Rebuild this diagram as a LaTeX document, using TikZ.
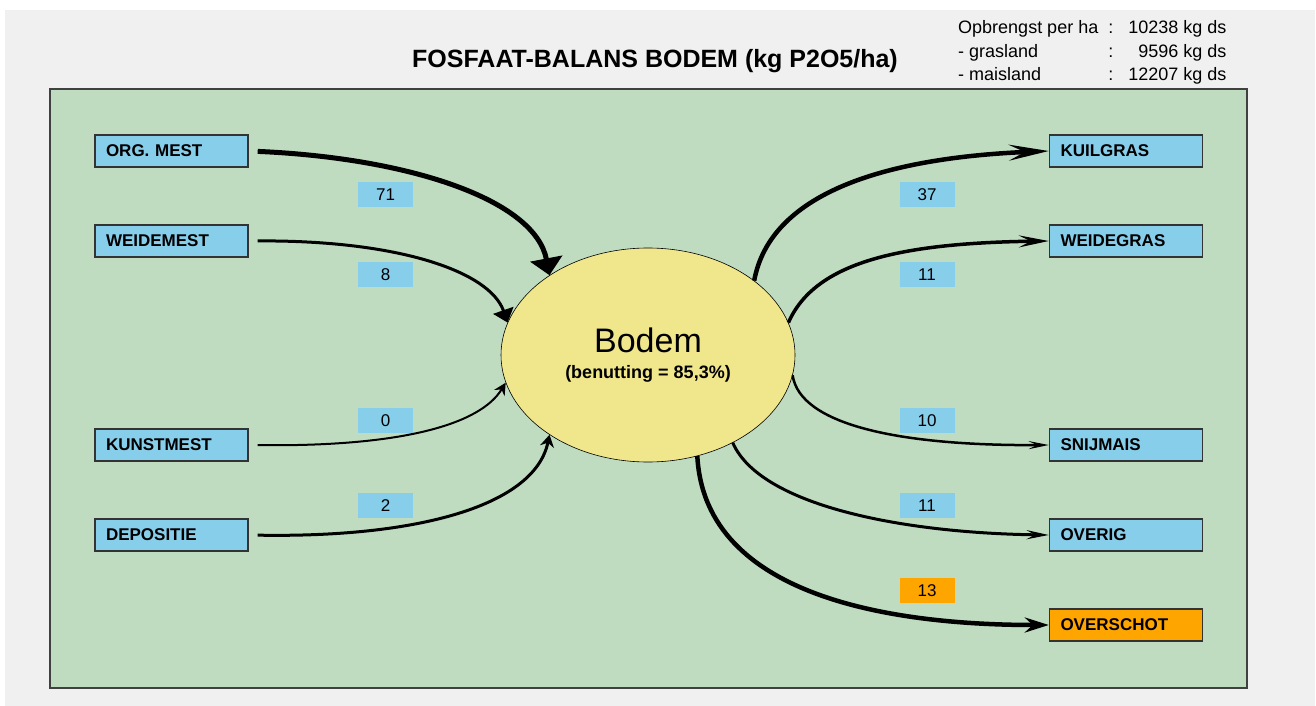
\documentclass[tikz,border=0pt]{standalone}
\usepackage{fontspec}
\setmainfont{Liberation Sans}
\usetikzlibrary{shapes.geometric,arrows.meta}
\definecolor{panelgreen}{RGB}{192,220,192}
\definecolor{boxblue}{RGB}{135,206,235}
\definecolor{surplusorange}{RGB}{255,165,0}
\definecolor{soilyellow}{RGB}{240,230,140}
\definecolor{framegray}{RGB}{240,240,240}

\begin{document}
\begin{tikzpicture}[x=1pt,y=-1pt,
    flowbox/.style={draw=black!80,line width=1.4pt,fill=boxblue,inner sep=0pt,
        minimum width=\boxwidth pt,minimum height=\boxheight pt,
        text width=(\boxwidth-22)*1pt,align=left,font=\boxfont},
    surplusbox/.style={flowbox,fill=surplusorange},
    valuetag/.style={fill=boxblue,inner sep=0pt,minimum width=55pt,minimum height=25pt,font=\valuefont},
    surplustag/.style={valuetag,fill=surplusorange},
    flowline/.style={draw=black}]
    \pgfmathsetmacro{\boxwidth}{153}
    \pgfmathsetmacro{\boxheight}{32}
    \pgfmathsetmacro{\leftx}{171.5}
    \pgfmathsetmacro{\rightx}{1126}
    \providecommand{\boxfont}{\fontsize{17}{20}\selectfont\bfseries}
    \providecommand{\valuefont}{\fontsize{17}{20}\selectfont}
    \providecommand{\titlefont}{\fontsize{25}{30}\selectfont\bfseries}
    \providecommand{\infofont}{\fontsize{18}{23.5}\selectfont}
    \useasboundingbox (0,0) rectangle (1316,706);
    \fill[white] (0,0) rectangle (1316,706);
    \fill[framegray] (5,10) rectangle (1315,706);
    \draw[draw=black!75,line width=1.5pt,fill=panelgreen] (50,89) rectangle (1247,688);
    % title and yield
    \node[font=\titlefont] (title) at (655,61) {FOSFAAT-BALANS BODEM (kg P2O5/ha)};
    \node[anchor=north west,inner sep=0pt,font=\infofont] (info) at (958,17)
    {\begin{tabular}{@{}l@{\ \ }l@{\ \ \ }r@{}}
        Opbrengst per ha & : & 10238 kg ds\\
        - grasland & : & 9596 kg ds\\
        - maisland & : & 12207 kg ds
    \end{tabular}};
    % soil
    \node[ellipse,draw=black,line width=0.6pt,fill=soilyellow,minimum width=294pt,minimum height=214pt,
        inner sep=0pt,align=center] (bodem) at (648,355)
    {{\fontsize{34}{38}\selectfont Bodem}\\[12pt]{\fontsize{18}{21}\selectfont\bfseries (benutting = 85,3\%)}};
    % inputs
    \node[flowbox] (orgmest) at (\leftx,151) {ORG. MEST};
    \node[flowbox] (weidemest) at (\leftx,241) {WEIDEMEST};
    \node[flowbox] (kunstmest) at (\leftx,445) {KUNSTMEST};
    \node[flowbox] (depositie) at (\leftx,535) {DEPOSITIE};
    \node[valuetag] (v71) at (385.5,194.5) {71};
    \node[valuetag] (v8) at (385.5,274.5) {8};
    \node[valuetag] (v0) at (385.5,420.5) {0};
    \node[valuetag] (v2) at (385.5,505.5) {2};
    % outputs
    \node[flowbox] (kuilgras) at (\rightx,151) {KUILGRAS};
    \node[flowbox] (weidegras) at (\rightx,241) {WEIDEGRAS};
    \node[flowbox] (snijmais) at (\rightx,445) {SNIJMAIS};
    \node[flowbox] (overig) at (\rightx,535) {OVERIG};
    \node[surplusbox] (overschot) at (\rightx,625) {OVERSCHOT};
    \node[valuetag] (v37) at (927,194.5) {37};
    \node[valuetag] (v11a) at (927,274.5) {11};
    \node[valuetag] (v10) at (927,420.5) {10};
    \node[valuetag] (v11b) at (927,505.5) {11};
    \node[surplustag] (v13) at (927,590.5) {13};
    % flows in
    \draw[flowline,line width=5pt,shorten <=9pt,-{Triangle[length=17pt,width=32pt]}]
        (orgmest.east) .. controls (410,158) and (535,200) .. (bodem.141.8);
    \draw[flowline,line width=3pt,shorten <=9pt,-{Triangle[length=13pt,width=21pt]}]
        (weidemest.east) .. controls (400,240) and (490,272) .. (bodem.167);
    \draw[flowline,line width=2pt,shorten <=9pt,-{Stealth[length=12pt,width=12pt]}]
        (kunstmest.east) .. controls (400,447) and (480,425) .. (bodem.191);
    \draw[flowline,line width=3pt,shorten <=9pt,-{Stealth[length=12pt,width=14pt]}]
        (depositie.east) .. controls (420,538) and (535,505) .. (bodem.219.6);
    % flows out
    \draw[flowline,line width=4.5pt,-{Stealth[length=40pt,width=16pt,inset=16pt]}]
        (bodem.35.8) .. controls (770,195) and (880,158) .. (kuilgras.west);
    \draw[flowline,line width=3.5pt,-{Stealth[length=30pt,width=12pt,inset=12pt]}]
        (bodem.13) .. controls (815,262) and (900,243) .. (weidegras.west);
    \draw[flowline,line width=2.5pt,-{Stealth[length=20pt,width=8pt,inset=8pt]}]
        (bodem.352) .. controls (800,425) and (900,446) .. (snijmais.west);
    \draw[flowline,line width=3pt,-{Stealth[length=22pt,width=9pt,inset=8pt]}]
        (bodem.314) .. controls (760,505) and (900,533) .. (overig.west);
    \draw[flowline,line width=4.5pt,-{Stealth[length=24pt,width=15pt,inset=8pt]}]
        (bodem.296) .. controls (705,600) and (900,625) .. (overschot.west);
\end{tikzpicture}
\end{document}
